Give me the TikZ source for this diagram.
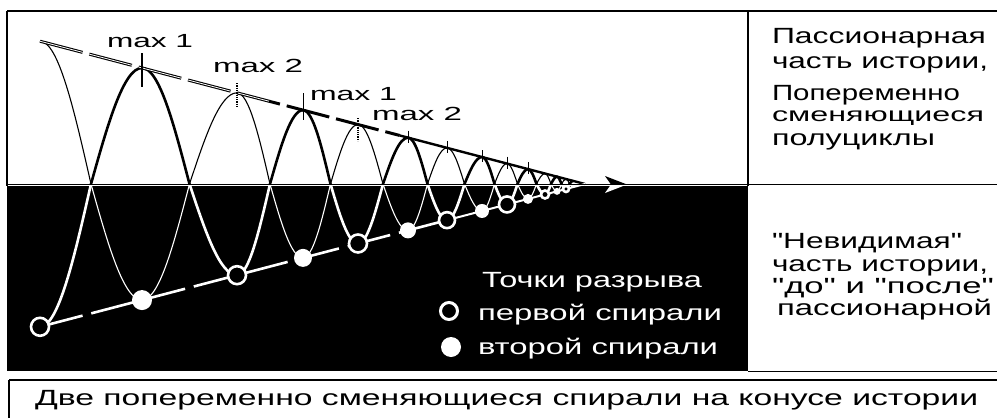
\documentclass[tikz,border=0pt]{standalone}
\usepackage{fontspec}
\setmainfont{Liberation Sans}[Ligatures=TeXOff]
\usetikzlibrary{calc}
\newcommand\wbox[2]{\resizebox{#1pt}{\height}{#2}}
\newcommand\spiralset[1]{%
  \draw[line width=2.6pt,#1,line join=round] (A0) \foreach \k in {1,...,13}{ cos (C\k) sin (A\k) };
  \draw[line width=1.1pt,#1] (B0) \foreach \k in {1,...,13}{ cos (C\k) sin (B\k) };
  \fill[#1] (605,176) -- (627,184.5) -- (605,193) -- (611,184.5) -- cycle;
}
\begin{document}
\begin{tikzpicture}[x=1pt,y=-1pt,
  rt/.style={anchor=base west,inner sep=0pt,outer sep=0pt,font=\fontsize{22}{24}\selectfont},
  lbl/.style={anchor=base west,inner sep=0pt,outer sep=0pt,font=\fontsize{19}{20}\selectfont},
  lgd/.style={anchor=base west,inner sep=0pt,outer sep=0pt,text=white,font=\fontsize{22}{24}\selectfont},
  captxt/.style={anchor=base west,inner sep=0pt,outer sep=0pt,font=\fontsize{22}{24}\selectfont}]
\useasboundingbox (0,0) rectangle (997,418);
\fill[white] (0,0) rectangle (997,418);
% key coordinates
\foreach \x [count=\k from 0, remember=\x as \px (initially 40)] in {40,142,237,303,358,408,447,482,507,528,545,557,566,573} {
  \pgfmathsetmacro\h{0.262*(585-\x)}
  \pgfmathsetmacro\mx{(\x+\px)/2}
  \coordinate (U\k) at (\x,184-\h);
  \coordinate (L\k) at (\x,184+\h);
  \coordinate (C\k) at (\mx,184);
  \ifodd\k\relax
    \coordinate (A\k) at (U\k); \coordinate (B\k) at (L\k);
  \else
    \coordinate (A\k) at (L\k); \coordinate (B\k) at (U\k);
  \fi
}
\coordinate (P) at (585,184);
\coordinate (Q) at ($(U0)!0.66!(P)$);
\coordinate (Q2) at ($(U0)!0.42!(P)$);
\coordinate (R) at ($(L0)!0.75!(P)$);
% black lower field
\fill[black] (7,186) rectangle (748,371);
% upper half (black on white)
\begin{scope}
  \clip (7,11) rectangle (748,183.6);
  \spiralset{black}
\end{scope}
% lower half (white on black)
\begin{scope}
  \clip (7,185.5) rectangle (748,371);
  \spiralset{white}
\end{scope}
% upper envelope
\draw[line width=3pt, dash pattern=on 44pt off 7pt] (U0) -- (Q);
\draw[white, line width=0.8pt, dash pattern=on 44pt off 7pt] (U0) -- (Q2);
\draw[line width=2.4pt] (Q) -- (P);
% lower envelope
\draw[white, line width=2.6pt, dash pattern=on 44pt off 9pt] (L0) -- (R);
\draw[white, line width=2pt] (R) -- (P);
% ticks at maxima
\draw[line width=2pt] (142,53) -- (142,87);
\draw[line width=1.3pt, densely dotted] (237,83) -- (237,107);
\draw[line width=1pt] (303,93) -- (303,120);
\draw[line width=1.3pt, densely dotted] (358,118) -- (358,141);
\foreach \k in {5,...,9} \draw[line width=1pt] ($(U\k)+(0,-7)$) -- ($(U\k)+(0,5)$);
% break points
\foreach \k/\r in {0/9,2/9,4/9,6/8,8/8,10/4,12/3}
  \draw[white,line width=2.6pt,fill=black] (A\k) circle[radius=\r];
\foreach \k/\r in {1/10,3/9,5/8,7/7,9/5,11/3.5}
  \fill[white] (B\k) circle[radius=\r];
% frame
\draw[line width=1.5pt] (7,11) -- (997,11);
\draw[line width=1.5pt] (7,11) -- (7,186);
\draw[line width=1.2pt] (748,11) -- (748,186);
\draw[line width=1.4pt] (7,184.3) -- (997,184.3);
\draw[line width=1pt] (748,371.5) -- (997,371.5);
\draw[line width=2pt] (9,380) -- (997,380);
\draw[line width=1.5pt] (9,380) -- (9,418);
% max labels
\node[lbl] (m1a) at (107,47) {\wbox{86}{max 1}};
\node[lbl] (m2a) at (213,72) {\wbox{90}{max 2}};
\node[lbl] (m1b) at (310,100) {\wbox{87}{max 1}};
\node[lbl] (m2b) at (372,120) {\wbox{90}{max 2}};
% legend
\node[lgd] (t0) at (482,287) {\wbox{220}{Точки разрыва}};
\node[lgd] (t1) at (478,320) {\wbox{244}{первой спирали}};
\node[lgd] (t2) at (478,354) {\wbox{240}{второй спирали}};
\draw[white, line width=3pt, fill=black] (449,311) circle[radius=8.5];
\fill[white] (451,347) circle[radius=10];
% right column
\node[rt] (r1) at (772,43) {\wbox{214}{Пассионарная}};
\node[rt] (r2) at (772,68) {\wbox{216}{часть истории,}};
\node[rt] (r3) at (772,100) {\wbox{188}{Попеременно}};
\node[rt,font=\fontsize{20}{22}\selectfont] (r4) at (772,121) {\wbox{212}{сменяющиеся}};
\node[rt] (r5) at (772,145) {\wbox{163}{полуциклы}};
\node[rt] (r6) at (772,248) {\wbox{190}{"Невидимая"}};
\node[rt] (r7) at (772,271) {\wbox{216}{часть истории,}};
\node[rt] (r8) at (772,293) {\wbox{222}{"до" и "после"}};
\node[rt] (r9) at (777,315) {\wbox{215}{пассионарной}};
% caption
\node[captxt] (c1) at (35,405) {\wbox{943}{Две попеременно сменяющиеся спирали на конусе истории}};
\end{tikzpicture}
\end{document}
